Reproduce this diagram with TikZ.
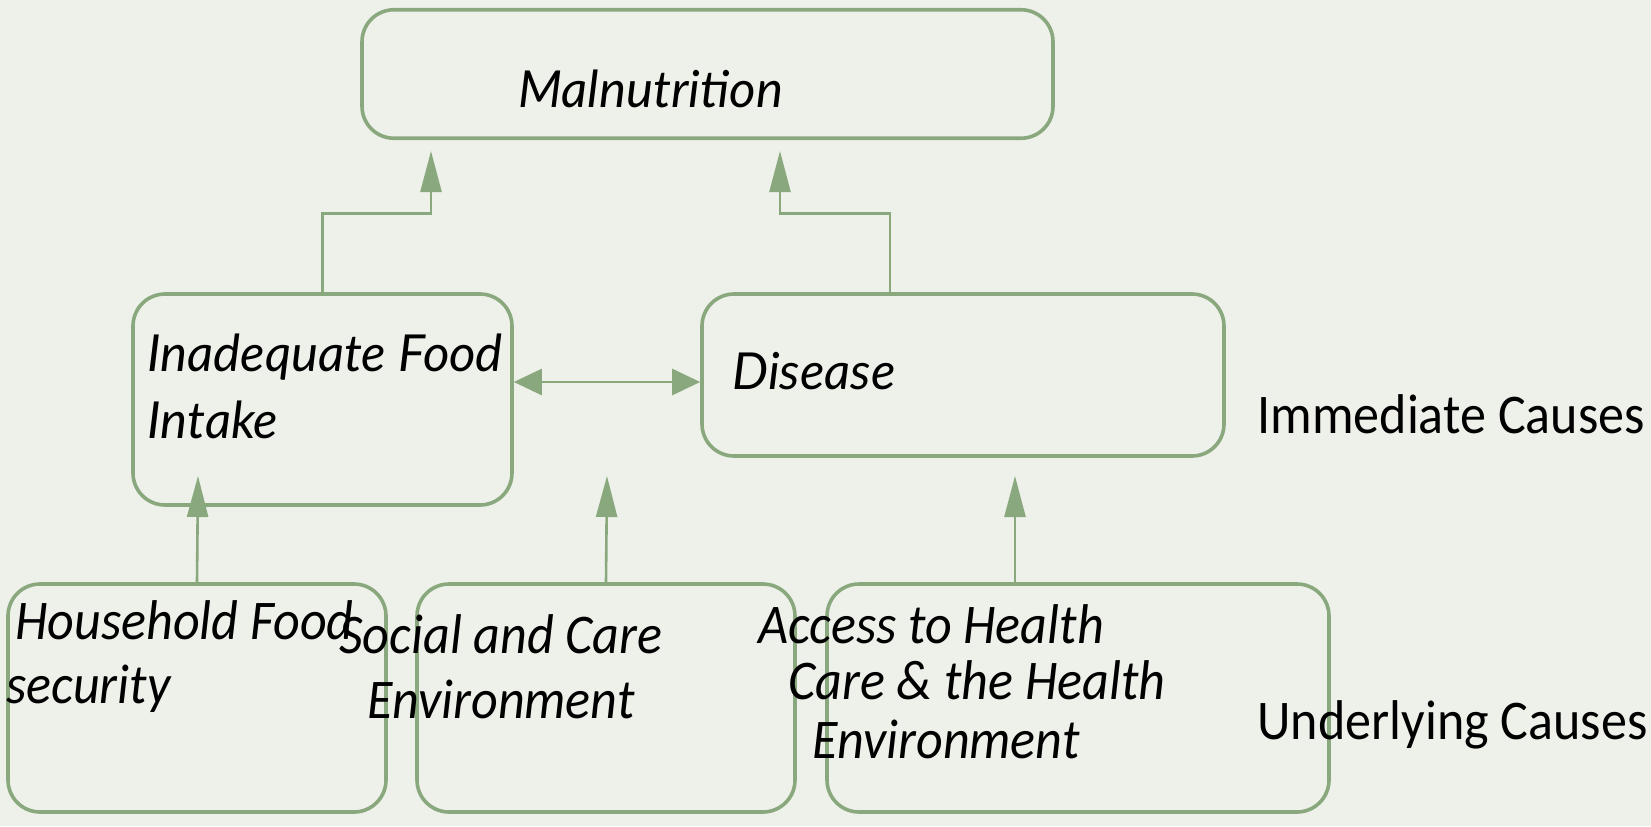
\documentclass[tikz,border=0pt]{standalone}
\usepackage{fontspec}
\setmainfont{Carlito}
\newfontfamily\latofont{Lato}
\newfontfamily\calfont[FakeStretch=0.93]{Carlito}
\usetikzlibrary{arrows.meta}
\definecolor{bgcol}{RGB}{238,241,234}
\definecolor{edgecol}{RGB}{138,168,125}

\begin{document}
\begin{tikzpicture}[x=0.5pt, y=-0.5pt,
  box/.style={draw=edgecol, line width=1.8pt, rounded corners=16pt, inner sep=0pt},
  link/.style={draw=edgecol, line width=1.3pt, -{Triangle[length=20.5pt,width=10.5pt]}},
  both/.style={draw=edgecol, line width=1.3pt, {Triangle[length=14pt,width=13pt]}-{Triangle[length=14pt,width=13pt]}},
  upper/.style={font=\latofont\itshape\fontsize{25.5}{30}\selectfont, inner sep=0pt, anchor=base west},
  lower/.style={font=\calfont\itshape\fontsize{28}{34}\selectfont, inner sep=0pt, anchor=base west},
  level/.style={font=\calfont\fontsize{28}{34}\selectfont, inner sep=0pt, anchor=base west}]
  \fill[bgcol] (0,0) rectangle (1651,826);
  \useasboundingbox (0,0) rectangle (1651,826);
  % boxes
  \node[box, minimum width=345.5pt, minimum height=64.25pt] (mal) at (707.5,74) {};
  \node[box, minimum width=189.5pt, minimum height=105.5pt] (inad) at (322.5,399.5) {};
  \node[box, minimum width=261pt, minimum height=81pt] (dis) at (963,375) {};
  \node[box, minimum width=189pt, minimum height=114pt] (hfs) at (197,698) {};
  \node[box, minimum width=189pt, minimum height=114pt] (sce) at (606,698) {};
  \node[box, minimum width=251pt, minimum height=114pt] (ahc) at (1078,698) {};
  % texts
  \node[upper] (tMal) at (518,107) {Malnutrition};
  \node[upper] (tInadA) at (147,371) {Inadequate Food};
  \node[upper] (tInadB) at (147,438) {Intake};
  \node[upper] (tDis) at (732,389) {Disease};
  \node[lower] (tHfsA) at (15,639) {Household Food};
  \node[lower] (tHfsB) at (6,703) {security};
  \node[lower, anchor=base] (tSceA) at (501,653) {Social and Care};
  \node[lower, anchor=base] (tSceB) at (501,718) {Environment};
  \node[lower] (tAhcA) at (758,643) {Access to Health};
  \node[lower] (tAhcB) at (788,699) {Care \& the Health};
  \node[lower] (tAhcC) at (812,758) {Environment};
  \node[level] (immed) at (1257,433) {Immediate Causes};
  \node[level] (under) at (1257,739) {Underlying Causes};
  % arrow ends
  \coordinate (malL) at (431,151);
  \coordinate (malR) at (780,151);
  \coordinate (inadIn) at (198,476);
  \coordinate (midIn) at (607,476);
  \coordinate (disIn) at (1015,476);
  % immediate causes to malnutrition
  \draw[link] (inad.north) -- ++(0,-79) -| (malL);
  \draw[link] ([xshift=-36.5pt]dis.north) -- ++(0,-79) -| (malR);
  \draw[both] ([yshift=8.75pt]inad.east) -- ([yshift=-3.5pt]dis.west);
  % underlying causes
  \draw[link] (hfs.north) -- (inadIn);
  \draw[link] (sce.north) -- (midIn);
  \draw[link] ([xshift=-31.5pt]ahc.north) -- (disIn);
\end{tikzpicture}
\end{document}
